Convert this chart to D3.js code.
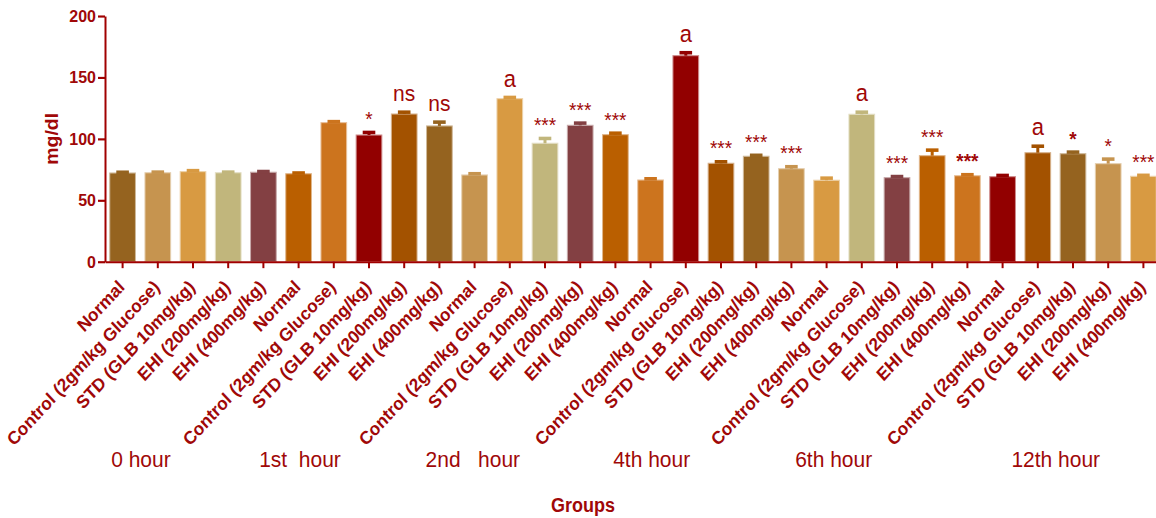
<!DOCTYPE html>
<html>
<head>
<meta charset="utf-8">
<script src="https://cdn.jsdelivr.net/npm/d3@7"></script>
<style>
  html, body { margin: 0; padding: 0; background: #ffffff; }
  svg { display: block; }
  text { font-family: "Liberation Sans", Arial, sans-serif; }
</style>
</head>
<body>
<svg id="chart"></svg>
<script>
// Treatment groups measured at every time point
const treatments = ["Normal", "Control (2gm/kg Glucose)", "STD (GLB 10mg/kg)", "EHI (200mg/kg)", "EHI (400mg/kg)"];
const timepoints = ["0 hour", "1st  hour", "2nd   hour", "4th hour", "6th hour", "12th hour"];

// Blood glucose (mg/dl), mean per bar, time point by time point
const meanGlucose = [
  72.2, 72.4, 73.3, 72.4, 72.8,
  71.6, 113.2, 103.1, 120.2, 110.5,
  70.6, 132.7, 96.4, 111.0, 103.4,
  66.5, 167.7, 80.1, 85.8, 75.7,
  66.3, 120.0, 68.4, 86.3, 70.0,
  69.2, 88.7, 87.9, 79.8, 69.5
];
// Standard error of the mean for each bar
const semGlucose = [
  0.6, 0.5, 0.8, 0.5, 0.6,
  0.6, 0.8, 2.1, 1.5, 3.1,
  1.0, 1.0, 3.9, 1.8, 1.2,
  1.0, 2.4, 1.2, 0.8, 1.6,
  1.7, 1.7, 0.9, 4.5, 0.8,
  1.0, 5.3, 1.3, 3.7, 0.8
];
// Significance marks printed above the bars
const significance = [
  "", "", "", "", "",
  "", "", "*", "ns", "ns",
  "", "a", "***", "***", "***",
  "", "a", "***", "***", "***",
  "", "a", "***", "***", "***",
  "", "a", "*", "*", "***"
];
// Marks that are set in bold
const boldMarks = [24, 27];

const yTicks = [0, 50, 100, 150, 200];

// Bar fill colours, repeating along the axis
const barColors = ["#95631f", "#c6944f", "#d89a42", "#c1b67c", "#834043", "#ba5f00", "#cc741e", "#920000", "#a35200"];

// ---- layout ----
const W = 1156, H = 518;
const stretch = 1.08;                 // vertical stretch of the whole drawing
const VH = H / stretch;
const ink = "#a00808";
const axisInk = "#a00000";
// where each time point caption sits, in bar slots
const hourLabelSlot = [0.52, 5.04, 9.95, 15.03, 20.2, 26.51];

const svg = d3.select("#chart")
  .attr("width", W).attr("height", H)
  .attr("viewBox", `0 0 ${W} ${VH}`)
  .attr("preserveAspectRatio", "none");

const rows = [];
timepoints.forEach((t, ti) => {
  treatments.forEach((g, gi) => {
    const i = ti * treatments.length + gi;
    rows.push({ i, time: t, group: g, mean: meanGlucose[i], sem: semGlucose[i], mark: significance[i] });
  });
});

const x = d3.scaleBand()
  .domain(rows.map(d => d.i))
  .range([105, 1161])
  .paddingInner(0.27)
  .paddingOuter(0.135);

const y = d3.scaleLinear().domain([0, 200]).range([242.3, 14.8]);

const slot = d3.scaleLinear().domain([0, 1]).range([x(0) + x.bandwidth() / 2, x(1) + x.bandwidth() / 2]);

// bars
svg.append("g").selectAll("rect")
  .data(rows)
  .join("rect")
  .attr("x", d => x(d.i))
  .attr("width", x.bandwidth())
  .attr("y", d => y(d.mean))
  .attr("height", d => y(0) - y(d.mean))
  .attr("fill", d => barColors[d.i % barColors.length])
  .attr("stroke", d => d3.interpolateRgb(barColors[d.i % barColors.length], "#ffffff")(0.55))
  .attr("stroke-width", 1);

// error bars (upper half)
const capHalf = 6.3;
const err = svg.append("g").selectAll("g").data(rows).join("g")
  .attr("stroke", d => barColors[d.i % barColors.length]);
err.append("line")
  .attr("x1", d => x(d.i) + x.bandwidth() / 2)
  .attr("x2", d => x(d.i) + x.bandwidth() / 2)
  .attr("y1", d => y(d.mean))
  .attr("y2", d => y(d.mean + d.sem))
  .attr("stroke-width", 3);
err.append("line")
  .attr("x1", d => x(d.i) + x.bandwidth() / 2 - capHalf)
  .attr("x2", d => x(d.i) + x.bandwidth() / 2 + capHalf)
  .attr("y1", d => y(d.mean + d.sem))
  .attr("y2", d => y(d.mean + d.sem))
  .attr("stroke-width", 3.3);

// significance marks
svg.append("g").selectAll("text")
  .data(rows.filter(d => d.mark))
  .join("text")
  .attr("x", d => x(d.i) + x.bandwidth() / 2)
  .attr("y", d => y(d.mean + d.sem) - (d.mark.startsWith("*") ? 6 : 10))
  .attr("text-anchor", "middle")
  .attr("fill", ink)
  .attr("font-size", d => d.mark.startsWith("*") ? 19 : (d.mark === "a" ? 22 : 21))
  .attr("font-weight", d => boldMarks.includes(d.i) ? "bold" : "normal")
  .text(d => d.mark);

// y axis
const yAxis = svg.append("g")
  .attr("transform", "translate(105,0)")
  .call(d3.axisLeft(y).tickValues(yTicks).tickSize(7).tickSizeOuter(0).tickPadding(2));
yAxis.select(".domain").attr("stroke", axisInk).attr("stroke-width", 2);
yAxis.selectAll(".tick line").attr("stroke", axisInk).attr("stroke-width", 2);
yAxis.selectAll(".tick text")
  .attr("fill", ink)
  .attr("font-size", 16)
  .attr("font-weight", "bold")
  .attr("font-family", "Liberation Sans, Arial, sans-serif");

// x axis with slanted treatment names
const xAxis = svg.append("g")
  .attr("transform", `translate(0,${y(0)})`)
  .call(d3.axisBottom(x).tickSize(6).tickSizeOuter(0).tickFormat(i => treatments[i % treatments.length]));
xAxis.select(".domain").attr("stroke", axisInk).attr("stroke-width", 2);
xAxis.selectAll(".tick line").attr("stroke", axisInk).attr("stroke-width", 2);
xAxis.selectAll(".tick text")
  .attr("fill", ink)
  .attr("font-size", 17)
  .attr("font-weight", "bold")
  .attr("font-family", "Liberation Sans, Arial, sans-serif")
  .attr("text-anchor", "end")
  .attr("dy", null)
  .attr("y", null)
  .attr("transform", "translate(3,24.5) rotate(-45)");

// time point captions
svg.append("g").selectAll("text")
  .data(timepoints)
  .join("text")
  .attr("x", (d, k) => slot(hourLabelSlot[k]))
  .attr("y", 432.7)
  .attr("text-anchor", "middle")
  .attr("fill", ink)
  .attr("font-size", 21)
  .style("white-space", "pre")
  .text(d => d);

// axis titles
svg.append("text")
  .attr("transform", `translate(52,${(y(0) + y(200)) / 2}) rotate(-90)`)
  .attr("text-anchor", "middle")
  .attr("dy", "0.35em")
  .attr("fill", ink)
  .attr("font-size", 18)
  .attr("font-weight", "bold")
  .text("mg/dl");

svg.append("text")
  .attr("x", 583)
  .attr("y", 473.8)
  .attr("text-anchor", "middle")
  .attr("fill", ink)
  .attr("font-size", 18)
  .attr("font-weight", "bold")
  .text("Groups");
</script>
</body>
</html>
